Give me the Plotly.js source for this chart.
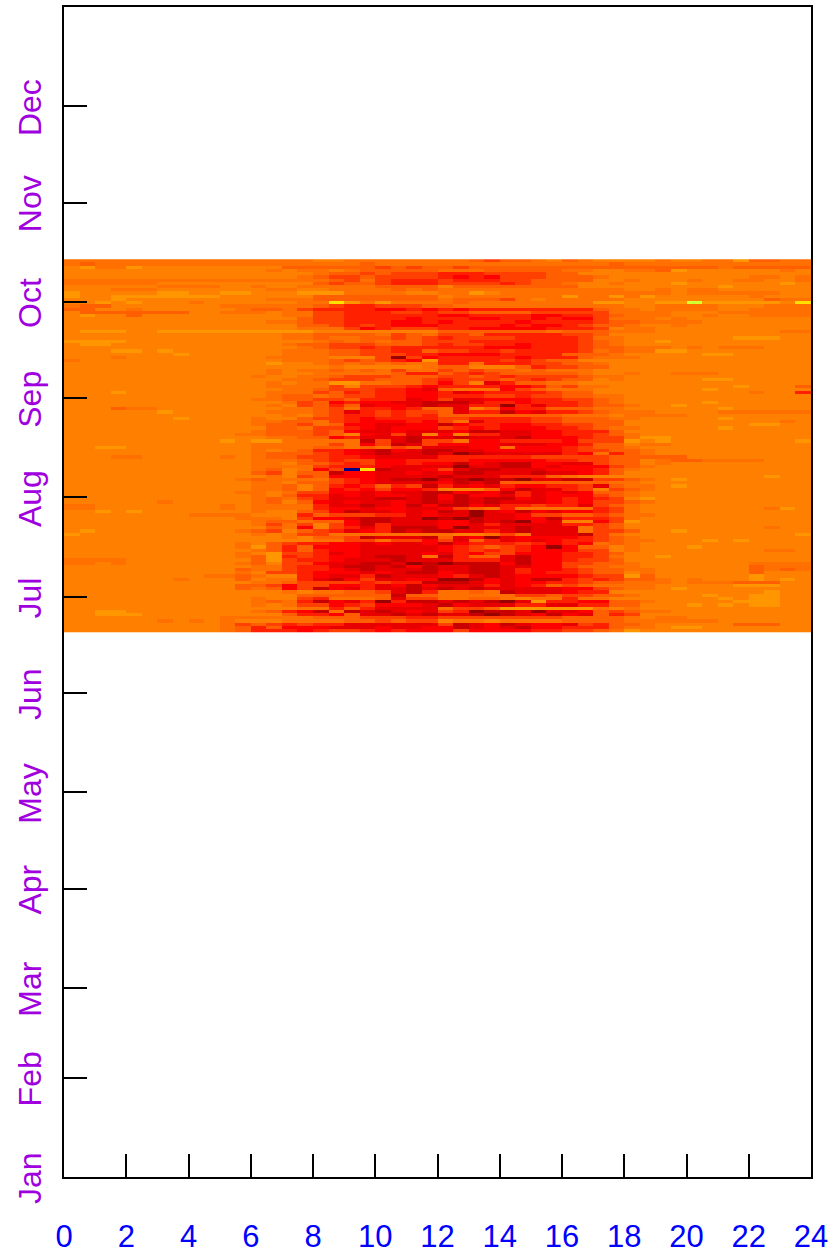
<!DOCTYPE html>
<html><head><meta charset="utf-8">
<script src="https://cdn.plot.ly/plotly-3.0.1.min.js"></script>
<style>html,body{margin:0;padding:0;background:#fff}</style></head>
<body><div id="chart" style="width:836px;height:1254px"></div>
<script>
const hourTicks=[0,2,4,6,8,10,12,14,16,18,20,22,24];
const monthStarts=[0,31,59,90,120,151,181,212,243,273,304,334];
const monthLabels=["Jan","Feb","Mar","Apr","May","Jun","Jul","Aug","Sep","Oct","Nov","Dec"];
const levelColors=["#00008b","#d4ff30","#ffe000","#ff9600","#ff8000","#ff7000","#ff5f00","#ff4000","#ff2000","#ff0000","#e80000","#c80000","#990000"];
// one string per day (top row = latest day), 48 half-hour cells; each character is a base-13 level
const rows=[
"555555 555555 555544 555555 556766 546544 445445 536655",
"565555 555555 555555 565555 555555 555556 555555 555555",
"435534 444444 446666 667676 676666 666666 666666 566666",
"444444 444444 454554 566666 555666 665544 556344 444454",
"444444 444444 444456 676777 888777 766444 444444 444444",
"444444 444444 444567 767777 898977 766654 444444 445545",
"555555 555555 555556 757888 788877 666644 544454 455445",
"555555 444444 444467 667888 777787 665445 444344 444434",
"444444 555544 544555 556666 466666 666444 444444 344444",
"444555 444444 455445 555656 555555 555555 445455 444444",
"344444 334433 444333 555544 553455 555555 555455 555544",
"344333 333344 444466 666666 455555 553553 534444 445444",
"444344 444444 455566 666666 566675 455555 444444 444655",
"443434 445444 444552 353555 565555 555533 443313 333342",
"566444 444455 555567 887776 655555 555555 445555 444555",
"664454 444445 665788 889989 898888 888865 545555 445555",
"466666 664455 545577 888778 776666 777775 555444 555555",
"434464 444444 445577 888888 998888 998876 555445 445555",
"444444 444444 444677 888898 889988 989975 554544 444444",
"444444 444444 455677 888998 988889 888876 655554 444444",
"444444 444444 444667 878999 888898 998766 544544 444444",
"444444 444444 444555 798777 889999 988874 554444 444444",
"433344 333333 333344 444444 666666 656665 554444 444455",
"444444 444444 445566 665765 776888 887764 444444 444444",
"444444 444444 445565 566767 877778 888755 444444 433344",
"333344 444444 444456 565667 778888 888765 443444 444444",
"433444 444444 445667 776667 877889 888765 444444 444444",
"444444 444444 444567 787888 888999 888766 555454 555444",
"444334 344444 445556 677886 778878 888756 553344 444444",
"444444 434444 445556 677788 999988 886665 444443 344444",
"444544 444444 455554 447c79 888889 888655 544444 444444",
"544444 444444 445556 767893 888878 766444 444444 444444",
"444444 444444 434456 565655 885888 776654 444444 444444",
"444444 444444 444445 444445 664446 877664 444444 444444",
"444444 444444 454556 565755 767665 655544 444444 444444",
"444444 444444 454455 555688 678766 666544 544555 444444",
"444444 444444 544556 777666 776787 777655 444444 444444",
"444444 444444 445567 776667 877767 876645 444443 344444",
"444444 444444 454553 355667 974a86 655444 444444 444444",
"444444 444444 455557 477789 888899 867554 444444 434446",
"444444 444444 445567 77889a 655597 655544 444443 444444",
"444344 444444 455576 878899 8a9888 876644 444444 445448",
"444444 444444 456656 778899 888778 776655 444444 444444",
"444444 444444 556677 6888a9 7aa999 887765 444444 444444",
"444444 444444 445769 899aab bba889 888765 444443 444444",
"444444 444444 454768 6a99ab aa88c8 a88766 544344 444444",
"444655 444444 445567 588986 6a4698 866655 444444 344444",
"444444 344444 455567 a87877 6a88b9 a88765 554444 555555",
"444444 444444 445467 887878 666666 665554 555544 444444",
"444444 434444 544677 898888 778888 776665 544444 344444",
"444444 444444 556657 899989 75a888 776666 444444 444454",
"444444 444444 566756 99aa99 b98899 887766 444444 443344",
"444444 444444 466577 89a999 789899 988765 544444 344444",
"444444 444444 566676 9aa9aa a9bbaa 998886 444444 444444",
"444444 444445 566676 49a7a4 9488aa 998876 544444 444444",
"444444 444444 455669 8aaaba abaaab 999877 533444 444444",
"444444 444434 335555 5b7ab7 759988 889777 343444 444443",
"444444 444444 555557 597ba7 9999aa a99866 455444 444444",
"443344 444444 555566 56576a aa9959 998766 544444 444444",
"444444 444444 545688 9ab9ab baa999 998776 654444 444444",
"444444 444444 566678 9abaab acbaaa aa8958 654444 444444",
"444554 444454 566778 89aaaa 888888 777776 666644 444444",
"444444 444444 555678 779988 889999 988776 645665 555444",
"444444 444444 554667 879989 9b9abb 99aa76 645444 444444",
"444444 444444 555578 889aaa acaabb 9a9997 654444 444444",
"444444 444444 564597 02baa9 7abbaa a99986 544444 444444",
"444444 444444 67466b 99aa9a 9bbaaa baa986 444444 444444",
"444444 444444 454769 99aaaa baaa88 865444 444444 444344",
"444444 444445 655557 89abbc abcbbc aabb77 654344 444444",
"444444 444444 554667 89aaaa 9bab66 666665 544444 444444",
"444444 444444 556468 98687b 8a9a89 9887a6 554344 444444",
"444444 444444 556469 897998 44469b aa8747 654444 444444",
"444444 444445 545779 9a9aab b9a9b8 a9a966 544444 444444",
"444444 444444 54688a 9a99ab 9b99a8 a99976 544444 444444",
"444444 444444 56578a aabbab 9babb9 a98987 434444 444444",
"444444 544444 56469a 9aa9ab ababaa a98977 654444 444444",
"554444 444454 55558a aba9b9 bb9a88 788a76 544444 444444",
"554444 444454 555589 9a99aa 976585 555587 544444 444534",
"443434 444444 544679 baa9a9 baca9b 9a9987 544444 444444",
"444444 445555 444867 7788a9 aacaa9 776676 554444 444444",
"444444 444445 554799 abbaac bcbaa9 9b8887 544444 444444",
"444444 444444 566566 9bbaaa 99babc 9a4497 344444 444444",
"444444 444444 575747 9b8aaa 99a8aa aa8876 444444 444444",
"444444 444444 465947 8a8bbb 9caaab aaa576 444444 444544",
"434444 444445 674678 a98bab baa8ab aaa577 644344 444444",
"344444 444444 545775 555555 544575 aaab75 444444 444443",
"444444 444444 445466 7baaab 6a9ca9 999876 544444 444444",
"444444 444444 444455 775779 7a68a9 a98876 554443 434444",
"444444 444445 467889 9a9aa9 b98887 898956 544444 444444",
"444444 444445 368699 9aaaaa 987678 9c9664 544434 444444",
"444444 444444 568689 9aaaaa 987878 999774 544444 444554",
"444444 444445 43778a 9aaaa9 a89779 998876 444444 444444",
"444444 444445 638789 9abba5 b866ab 998875 443444 444444",
"555544 444444 637889 aaabaa a888ab 998776 444444 444444",
"554544 444445 64779a abbacb cbbb9b 997766 544444 445555",
"444444 444444 55788a bbab9b aabbaa 997665 544444 446555",
"444444 444446 557889 abaaab aabba8 998766 554444 446565",
"444444 444445 477899 9a9abb 9abba8 988766 454444 446444",
"444444 444556 54489a a8baaa 98aba9 999877 364444 443444",
"444444 454446 4558ab 97aa99 ccb9a9 bb8787 665454 443434",
"444444 444444 556777 78788b bba9a9 988766 555455 566644",
"444444 444446 679779 98a9b9 aaa8a9 867655 554444 433344",
"444444 444446 5697b9 a8aaba babaaa aa9976 554344 444444",
"444444 444444 445455 667ab8 5565ba aa9884 444444 444344",
"444444 444444 444666 666b66 555557 767766 544443 443344",
"444444 444444 544785 556a77 556654 558554 444444 343344",
"444444 444444 5658b9 a8c8bb ababca 388996 654444 433344",
"444444 444444 545779 87999a b9aaa8 8aa886 644434 343344",
"444444 444444 444558 68aaaa 577633 333354 544444 444444",
"443344 444444 5689b5 baba9a 78cbba caa967 655444 444444",
"443334 444444 446889 6aabab aabcba 9b9a68 744444 444444",
"444444 444455 555566 677788 777777 776666 545544 444444",
"444444 545454 445555 667677 455455 556666 555555 444444",
"444444 444457 678788 aaaaaa 7ba9ba 99a786 654444 466644",
"444444 444456 86999a aa9aa9 9ba9ab 998886 554334 444444",
"444444 444456 888987 789899 979999 887765 344444 444444"
];
const grid=rows.map(r=>r.replace(/ /g,"").split("").map(c=>parseInt(c,13))).reverse();
const hours=grid[0].map((_,i)=>i*0.5+0.25);
const dayStep=116.5/grid.length;
const days=grid.map((_,i)=>169.8+(i+0.5)*dayStep);
const topLevel=levelColors.length-1;
Plotly.newPlot("chart",[{type:"heatmap",x:hours,y:days,z:grid,zmin:0,zmax:topLevel,zsmooth:false,showscale:false,
  colorscale:levelColors.map((c,i)=>[i/topLevel,c]),hoverinfo:"skip"}],{
  width:836,height:1254,autosize:false,paper_bgcolor:"#fff",plot_bgcolor:"#fff",
  margin:{l:64,r:25,t:7,b:77,pad:0},
  font:{family:"Liberation Sans, Arial, sans-serif",size:30},
  xaxis:{range:[0,24],tickmode:"array",tickvals:hourTicks,ticktext:hourTicks.map(String),ticks:"inside",ticklen:23,tickwidth:2,tickcolor:"#000",
    showline:true,linecolor:"#000",linewidth:2,mirror:true,showgrid:false,zeroline:false,tickangle:0,
    tickfont:{color:"#0000ff",size:31,family:"Liberation Sans, Arial, sans-serif"},ticklabelstandoff:31},
  yaxis:{range:[0,365],tickmode:"array",tickvals:monthStarts,ticktext:monthLabels,ticks:"inside",ticklen:23,tickwidth:2,tickcolor:"#000",
    showline:true,linecolor:"#000",linewidth:2,mirror:true,showgrid:false,zeroline:false,tickangle:-90,
    tickfont:{color:"#a000e0",size:32,family:"Liberation Sans, Arial, sans-serif"},ticklabelstandoff:8,ticklabelshift:6}
},{staticPlot:true,displayModeBar:false});
</script></body></html>
